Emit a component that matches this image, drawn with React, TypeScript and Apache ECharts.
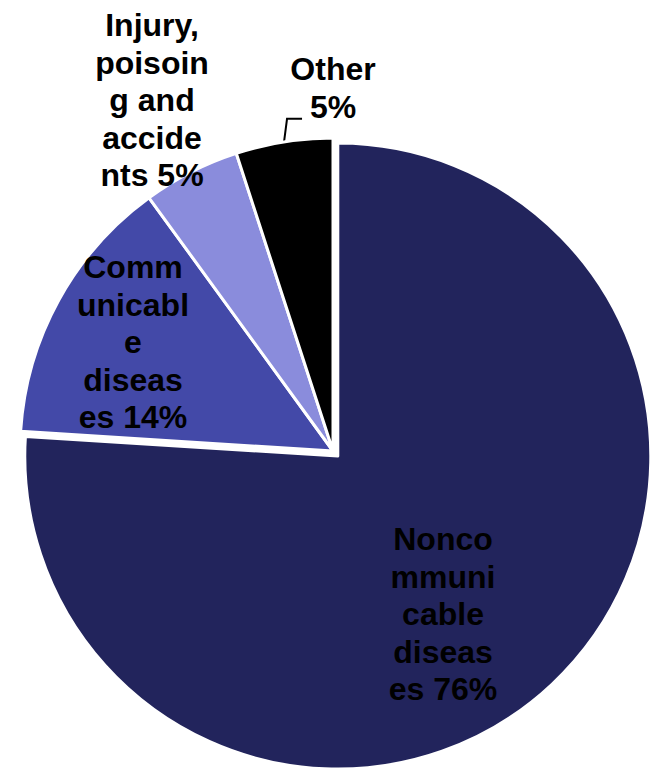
import React, { useEffect, useRef } from "react";
import * as echarts from "echarts";

// Share of deaths by cause
const causes = [
  "Noncommunicable diseases",
  "Communicable diseases",
  "Injury, poisoning and accidents",
  "Other",
];
const shares = [76, 14, 5, 5];
// Wrapped label text as it appears on the chart
const labelLines = [
  ["Nonco", "mmuni", "cable", "diseas", "es 76%"],
  ["Comm", "unicabl", "e", "diseas", "es 14%"],
  ["Injury,", "poisoin", "g and", "accide", "nts 5%"],
  ["Other", "5%"],
];
const sliceColors = ["#22245c", "#4349a8", "#8a8cdc", "#000000"];

// Where each label block is centred
const labelSpots = [
  { x: 443, y: 614 },
  { x: 133, y: 342 },
  { x: 152, y: 100 },
  { x: 333, y: 88 },
];

const PIE_CENTER = [333, 451];
const PIE_RADIUS = 313;
const EXPLODE = 7; // pull-out distance of the largest slice

export default function App() {
  const ref = useRef<HTMLDivElement>(null);

  useEffect(() => {
    if (!ref.current) return;
    const chart = echarts.init(ref.current, null, { renderer: "svg" });

    const total = shares.reduce((a, b) => a + b, 0);
    // Mid-angle of the first slice, measured clockwise from 12 o'clock
    const mid = ((shares[0] / total) * Math.PI);
    const explodedCenter = [
      PIE_CENTER[0] + EXPLODE * Math.sin(mid),
      PIE_CENTER[1] - EXPLODE * Math.cos(mid),
    ];

    const baseLabel = {
      show: true,
      position: "inside",
      color: "#000000",
      fontFamily: "Liberation Sans, Arial, sans-serif",
      fontWeight: "bold",
      fontSize: 32,
      lineHeight: 37.5,
      align: "center",
      overflow: "none",
    };

    const blank = {
      itemStyle: { color: "rgba(0,0,0,0)", borderWidth: 0 },
      label: { show: false },
      labelLine: { show: false },
    };

    const common = {
      type: "pie",
      radius: [0, PIE_RADIUS],
      startAngle: 90,
      clockwise: true,
      avoidLabelOverlap: false,
      silent: true,
      emphasis: { disabled: true },
      itemStyle: { borderColor: "#ffffff", borderWidth: 3 },
      labelLine: { show: false },
    };

    chart.setOption({
      animation: false,
      backgroundColor: "#ffffff",
      series: [
        {
          ...common,
          center: PIE_CENTER,
          label: {
            ...baseLabel,
            formatter: (p: any) => labelLines[p.dataIndex].join("\n"),
          },
          labelLayout: (p: any) => {
            const spot = labelSpots[p.dataIndex];
            const out: any = {
              x: spot.x,
              y: spot.y,
              align: "center",
              verticalAlign: "middle",
              hideOverlap: false,
            };
            // Leader for "Other": up from the rim, then a short step right
            if (p.labelLinePoints && p.labelLinePoints.length) {
              const [sx, sy] = p.labelLinePoints[0];
              out.labelLinePoints = [
                [sx, sy],
                [sx + 3, sy - 23],
                [sx + 18, sy - 23],
              ];
            }
            return out;
          },
          data: causes.map((name, i) =>
            i === 0
              ? { name: "", value: shares[0], ...blank }
              : {
                  name,
                  value: shares[i],
                  itemStyle: { color: sliceColors[i] },
                  label: i >= 2 ? { position: "outside" } : undefined,
                  labelLine:
                    i === 3
                      ? {
                          show: true,
                          length: 22,
                          length2: 15,
                          lineStyle: { color: "#000000", width: 2 },
                        }
                      : { show: false },
                }
          ),
        },
        {
          ...common,
          center: explodedCenter,
          label: {
            ...baseLabel,
            formatter: () => labelLines[0].join("\n"),
          },
          labelLayout: () => ({
            x: labelSpots[0].x,
            y: labelSpots[0].y,
            align: "center",
            verticalAlign: "middle",
          }),
          data: [
            {
              name: causes[0],
              value: shares[0],
              itemStyle: { color: sliceColors[0] },
            },
            { name: "", value: total - shares[0], ...blank },
          ],
        },
      ],
    });
    return () => chart.dispose();
  }, []);

  return (
    <div
      ref={ref}
      style={{ position: "fixed", left: 0, top: 0, width: 652, height: 768 }}
    />
  );
}
